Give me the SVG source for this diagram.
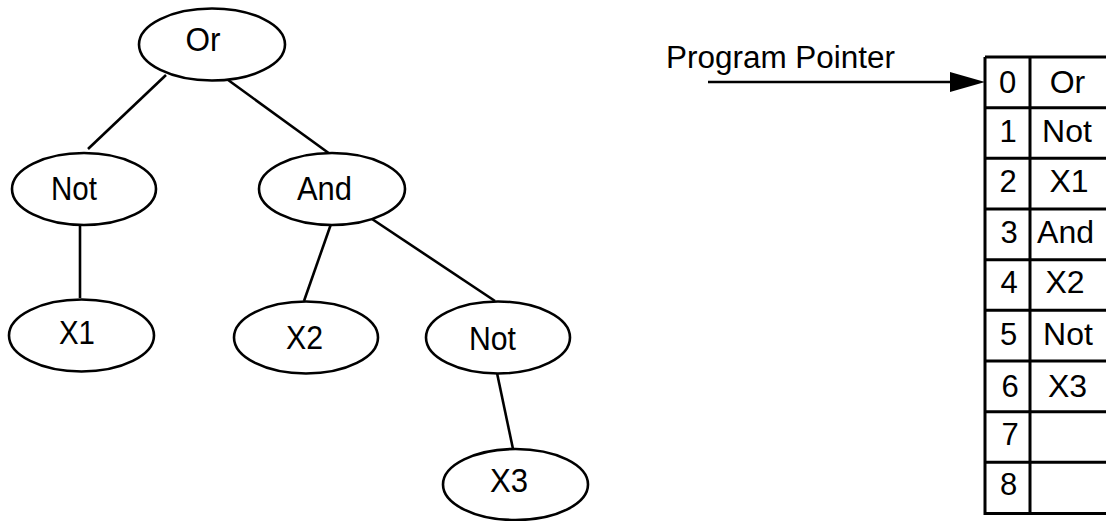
<svg xmlns="http://www.w3.org/2000/svg" width="1106" height="521" viewBox="0 0 1106 521">
<style>
.n ellipse{fill:#fff;stroke:#000;stroke-width:2.6}
.t{font-family:"Liberation Sans",Arial,sans-serif;font-size:32.5px;fill:#000;text-anchor:middle}
.d{font-size:31px}
.v{font-size:32px}
.c line{stroke:#000;stroke-width:2.6}
.tb{stroke:#000;stroke-width:3;fill:none}
</style>
<rect width="1106" height="521" fill="#fff"/>
<g id="connectors" class="c">
<line x1="166" y1="75" x2="88" y2="149"/>
<line x1="224" y1="77" x2="330" y2="154"/>
<line x1="80" y1="225" x2="80" y2="298"/>
<line x1="331" y1="224" x2="304" y2="301"/>
<line x1="366" y1="215" x2="495" y2="301"/>
<line x1="497" y1="373" x2="513" y2="449"/>
</g>
<g id="node-or" class="n"><ellipse cx="212" cy="44.5" rx="73" ry="36"/><text class="t" x="203" y="51" textLength="35" lengthAdjust="spacingAndGlyphs">Or</text></g>
<g id="node-not1" class="n"><ellipse cx="84" cy="189" rx="72" ry="36"/><text class="t" x="74" y="199.5" textLength="46" lengthAdjust="spacingAndGlyphs">Not</text></g>
<g id="node-and" class="n"><ellipse cx="332" cy="189" rx="73" ry="36"/><text class="t" x="324.5" y="199.5" textLength="55" lengthAdjust="spacingAndGlyphs">And</text></g>
<g id="node-x1" class="n"><ellipse cx="81.5" cy="335.5" rx="72.5" ry="36"/><text class="t" x="77" y="344" textLength="36" lengthAdjust="spacingAndGlyphs">X1</text></g>
<g id="node-x2" class="n"><ellipse cx="306" cy="337.5" rx="72" ry="36"/><text class="t" x="304.5" y="349" textLength="37" lengthAdjust="spacingAndGlyphs">X2</text></g>
<g id="node-not2" class="n"><ellipse cx="498" cy="337.5" rx="72" ry="36"/><text class="t" x="492.5" y="350" textLength="47" lengthAdjust="spacingAndGlyphs">Not</text></g>
<g id="node-x3" class="n"><ellipse cx="515.5" cy="484.5" rx="72.5" ry="35.5"/><text class="t" x="509" y="492" textLength="38" lengthAdjust="spacingAndGlyphs">X3</text></g>
<g id="pointer">
<text class="t" x="666" y="68" style="text-anchor:start;font-size:31px" textLength="229" lengthAdjust="spacingAndGlyphs">Program Pointer</text>
<line x1="708" y1="82" x2="952" y2="82" stroke="#000" stroke-width="2.6"/>
<polygon points="950,72 985,82 950,92" fill="#000"/>
</g>
<g id="table">
<path class="tb" d="M985,57 H1106 M985,57 V513.5 H1106 M1030,57 V513.5 M985,107.7 H1106 M985,158.3 H1106 M985,209 H1106 M985,259.7 H1106 M985,310.3 H1106 M985,361 H1106 M985,411.7 H1106 M985,462.3 H1106"/>
<g class="t">
<text class="d" x="1007.5" y="93">0</text><text class="v" x="1067.5" y="93">Or</text>
<text class="d" x="1008" y="141.5">1</text><text class="v" x="1067" y="141.5">Not</text>
<text class="d" x="1008" y="192">2</text><text class="v" x="1069" y="192">X1</text>
<text class="d" x="1009" y="243">3</text><text class="v" x="1065.5" y="243">And</text>
<text class="d" x="1009" y="293">4</text><text class="v" x="1065" y="293">X2</text>
<text class="d" x="1008.5" y="345">5</text><text class="v" x="1068" y="345">Not</text>
<text class="d" x="1010" y="397">6</text><text class="v" x="1067.5" y="397">X3</text>
<text class="d" x="1010" y="445">7</text>
<text class="d" x="1008.5" y="495">8</text>
</g>
</g>
</svg>
